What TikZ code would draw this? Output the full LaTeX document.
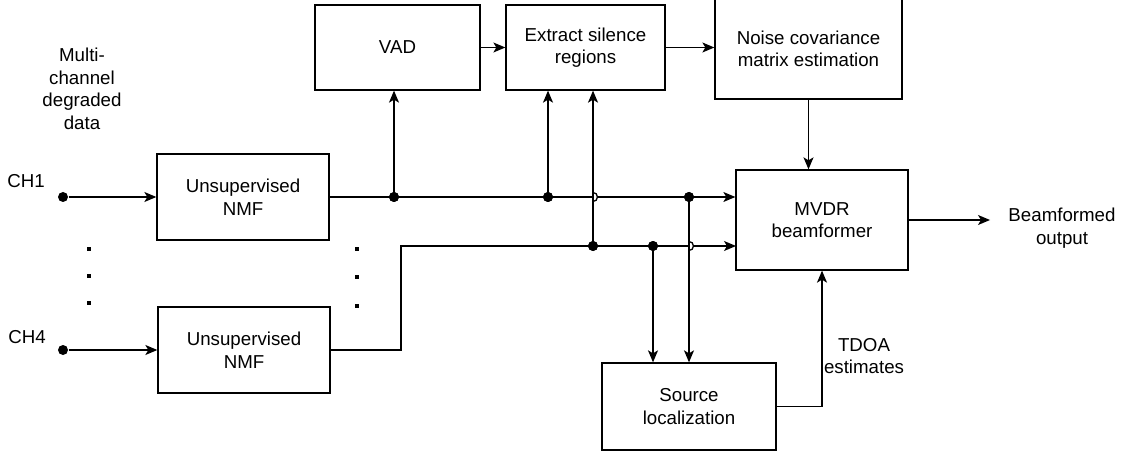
\documentclass[tikz,border=0pt]{standalone}
\usepackage{fontspec}
\setmainfont{Liberation Sans}
\usetikzlibrary{arrows.meta,calc}
\newcommand\dgfont{\fontsize{18.7}{22.5}\selectfont}
\begin{document}
\begin{tikzpicture}[x=1pt,y=-1pt,line width=1.3pt,
  box/.style={draw,line width=1.3pt,align=center,inner sep=0pt,font=\dgfont},
  arr/.style={-{Stealth[length=12pt,width=10pt,inset=3pt]}},
  dot/.style={circle,fill,inner sep=0pt,minimum size=10pt},
  lbl/.style={align=center,font=\dgfont,inner sep=0pt},
  ell/.style={fill,inner sep=0pt,minimum size=3.5pt}]
\useasboundingbox (0,0) rectangle (1139,454);
% boxes
\node[box,minimum width=172pt,minimum height=86pt] (nmf1) at (243,197) {Unsupervised\\NMF};
\node[box,minimum width=172pt,minimum height=86pt] (nmf2) at (244,350) {Unsupervised\\NMF};
\node[box,minimum width=165pt,minimum height=85pt] (vad) at (397.5,47.5) {VAD};
\node[box,minimum width=159pt,minimum height=85pt] (ext) at (585.5,47.5) {Extract silence\\regions};
\node[box,minimum width=187pt,minimum height=100pt] (noise) at (808.5,49) {Noise covariance\\matrix estimation};
\node[box,minimum width=172pt,minimum height=100pt] (mvdr) at (822,220) {MVDR\\beamformer};
\node[box,minimum width=174pt,minimum height=87pt] (src) at (689,406.5) {Source\\localization};
% labels
\node[lbl] (mc) at (82,89) {Multi-\\channel\\degraded\\data};
\node[lbl] (ch1) at (26,181) {CH1};
\node[lbl] (ch4) at (27,337) {CH4};
\node[lbl] (tdoa) at (864,356) {TDOA\\estimates};
\node[lbl] (bf) at (1062,228) {Beamformed\\output};
% ellipsis dots
\node[ell] (e1) at (89,249) {};
\node[ell] (e2) at (89,276) {};
\node[ell] (e3) at (89,303) {};
\node[ell] (e4) at (357,249) {};
\node[ell] (e5) at (357,277) {};
\node[ell] (e6) at (357,306) {};
% input dots
\node[dot] (in1) at (63,197) {};
\node[dot] (in4) at (63,350) {};
% junction dots
\node[dot] (j1) at (394,197) {};
\node[dot] (j2) at (548,197) {};
\node[dot] (j3) at (689,197) {};
\node[dot] (k1) at (593,246) {};
\node[dot] (k2) at (653,246) {};
\coordinate (b1) at (401,350);
\coordinate (b2) at (401,246);
\coordinate (t2) at (736,246);
\coordinate (out) at (990,220);
\coordinate (sc) at (822,406.5);
\coordinate (h1) at (593,197);
\coordinate (h2) at (689,246);
% inputs
\draw[arr] (in1) -- (nmf1.west);
\draw[arr] (in4) -- (nmf2.west);
% main lines
\draw[arr] (nmf1.east) -- (nmf1.east -| mvdr.west);
\draw[arr] (nmf2.east) -- (b1) -- (b2) -- (t2);
% hops
\fill[white] ($(h1)+(0,-4.5)$) arc (-90:90:4.5) -- cycle;
\draw ($(h1)+(0,-4.5)$) arc (-90:90:4.5);
\fill[white] ($(h2)+(0,-4.5)$) arc (-90:90:4.5) -- cycle;
\draw ($(h2)+(0,-4.5)$) arc (-90:90:4.5);
% verticals
\draw[arr] (j1.center) -- (j1 |- vad.south);
\draw[arr] (j2.center) -- (j2 |- ext.south);
\draw[arr] (k1.center) -- (k1 |- ext.south);
\draw[arr] (k2.center) -- (k2 |- src.north);
\draw[arr] (j3.center) -- (j3 |- src.north);
% top chain
\draw[arr] (vad.east) -- (ext.west);
\draw[arr] (ext.east) -- (ext.east -| noise.west);
\draw[arr] (noise.south) -- (noise.south |- mvdr.north);
% src to mvdr
\draw[arr] (src.east) -- (sc) -- (mvdr.south);
% output
\draw[arr] (mvdr.east) -- (out);
% redraw dots on top
\foreach \n in {j1,j2,j3,k1,k2} \fill (\n) circle (5pt);
\end{tikzpicture}
\end{document}
